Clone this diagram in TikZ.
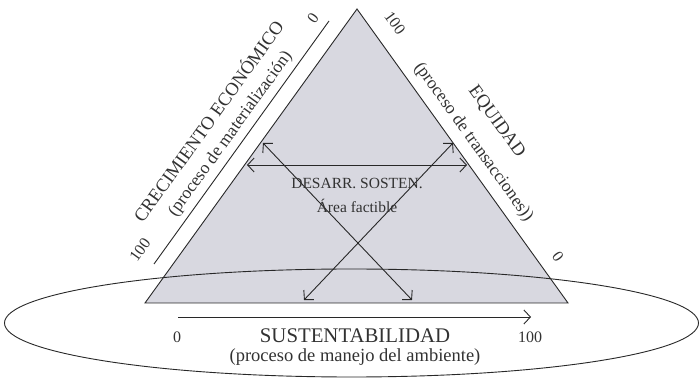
\documentclass[tikz,border=0pt]{standalone}
\usepackage{fontspec}
\setmainfont{Liberation Serif}
\usetikzlibrary{arrows.meta,shapes.geometric}
\definecolor{trifill}{RGB}{216,216,224}
\definecolor{ink}{RGB}{40,40,40}
\definecolor{txt}{RGB}{50,50,50}
\tikzset{
  edge/.style={draw=ink, line width=0.9pt},
  dbl/.style={draw=ink, line width=0.9pt, {Straight Barb[length=6.5pt,width=14pt]}-{Straight Barb[length=6.5pt,width=14pt]}},
  sgl/.style={draw=ink, line width=0.9pt, -{Straight Barb[length=6.5pt,width=14pt]}},
  lbl/.style={text=txt, inner sep=0pt, font=\fontsize{18.5}{20}\selectfont},
  sub/.style={text=txt, inner sep=0pt, font=\fontsize{17.5}{19}\selectfont},
  num/.style={text=txt, inner sep=0pt, font=\fontsize{16}{18}\selectfont},
  mid/.style={text=txt, inner sep=0pt, font=\fontsize{15.5}{17}\selectfont, align=center}
}
\begin{document}
\begin{tikzpicture}[x=1pt,y=-1pt]
\useasboundingbox (0,0) rectangle (699,379);
% triangle
\coordinate (A) at (145,303);
\coordinate (T) at (357,9);
\coordinate (B) at (568,303);
\path[fill=trifill, edge, line join=miter] (A) -- (T) -- (B) -- cycle;
% ellipse
\node[draw=ink, line width=0.9pt, shape=ellipse, minimum width=694pt, minimum height=108pt, inner sep=0pt] (ell) at (351.5,323) {};
% arrows inside
\coordinate (h1) at (247,165);
\coordinate (h2) at (467,165);
\coordinate (d1a) at (263,143);
\coordinate (d1b) at (412,300);
\coordinate (d2a) at (453,143);
\coordinate (d2b) at (304,300);
\draw[dbl] (h1) -- (h2);
\draw[dbl] (d1a) -- (d1b);
\draw[dbl] (d2a) -- (d2b);
% parallel line left
\coordinate (p1) at (154,264);
\coordinate (p2) at (329,21);
\draw[edge] (p1) -- (p2);
% bottom arrow
\coordinate (b1) at (178,317);
\coordinate (b2) at (531,317);
\draw[sgl] (b1) -- (b2);
% labels
\node[lbl, rotate=54.2] (crec) at (207.4,120.8) {CRECIMIENTO ECONÓMICO};
\node[sub, rotate=54.2] (mat) at (230.6,134.2) {(proceso de materialización)};
\node[lbl, rotate=-54.2] (equi) at (496.6,121.8) {EQUIDAD};
\node[sub, rotate=-54.2] (trans) at (473.4,142.2) {(proceso de transacciones))};
\node[num, rotate=54.2] (l0) at (313,18) {0};
\node[num, rotate=54.2] (l100) at (140,250) {100};
\node[num, rotate=-54.2] (r100) at (395,23) {100};
\node[num, rotate=-54.2] (r0) at (558,257) {0};
\node[num] (b0) at (177,337) {0};
\node[num] (b100) at (530,337) {100};
\node[lbl, font=\fontsize{20.8}{22}\selectfont] (sust) at (355,336) {SUSTENTABILIDAD};
\node[sub, font=\fontsize{18.5}{20}\selectfont] (amb) at (355,357) {(proceso de manejo del ambiente)};
\node[mid] (des) at (357,183) {DESARR. SOSTEN.};
\node[mid] (area) at (357,206) {Área factible};
\end{tikzpicture}
\end{document}
